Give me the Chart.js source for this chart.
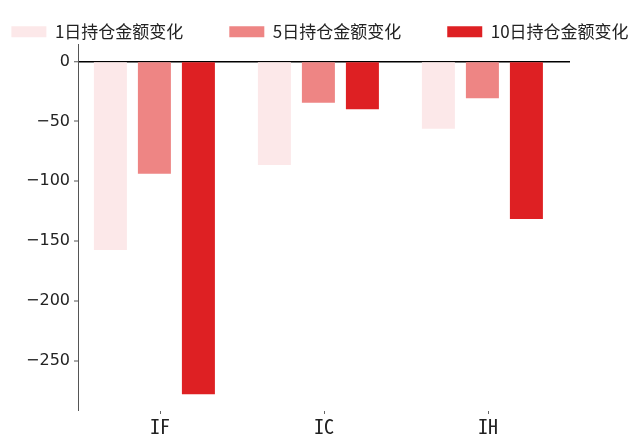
<!DOCTYPE html>
<html>
<head>
<meta charset="utf-8">
<script src="https://cdn.jsdelivr.net/npm/chart.js@4.4.1/dist/chart.umd.min.js"></script>
<style>
  html, body { margin: 0; padding: 0; background: #fff; }
  #wrap { width: 638px; height: 435px; }
</style>
</head>
<body>
<div id="wrap"><canvas id="posChart" width="638" height="435"></canvas></div>
<script>
// data
const CATEGORIES = ['IF', 'IC', 'IH'];
const SERIES_NAMES = ['1日持仓金额变化', '5日持仓金额变化', '10日持仓金额变化'];
const CHG_1D = [-157.3, -86.4, -56.2];
const CHG_5D = [-93.7, -34.5, -30.8];
const CHG_10D = [-277.5, -40.0, -131.4];
const Y_MIN = -291.5;
const Y_MAX = 14.5;
const Y_STEP = 50;

const COLORS = ['#fce8e9', '#ee8584', '#de2023'];
const SERIES = [CHG_1D, CHG_5D, CHG_10D];

// the groups sit a little left of their tick in the original
const shiftBars = {
    id: 'shiftBars',
    beforeDatasetsDraw(chart) {
        chart.ctx.save();
        chart.ctx.translate(-5.6, 0);
    },
    afterDatasetsDraw(chart) {
        chart.ctx.restore();
    }
};

const ctx = document.getElementById('posChart');
new Chart(ctx, {
    type: 'bar',
    data: {
        labels: CATEGORIES,
        datasets: SERIES_NAMES.map((name, i) => ({
            label: name,
            data: SERIES[i],
            backgroundColor: COLORS[i],
            borderWidth: 0
        }))
    },
    options: {
        responsive: false,
        animation: false,
        layout: { padding: { left: -45, right: -47, top: -22.8, bottom: 0 } },
        datasets: { bar: { categoryPercentage: 0.805, barPercentage: 0.75 } },
        plugins: {
            tooltip: { enabled: false },
            legend: {
                position: 'top',
                maxHeight: 66.8,
                labels: {
                    boxWidth: 35,
                    boxHeight: 11,
                    padding: 46,
                    color: '#222',
                    font: { family: '"Noto Sans CJK SC"', size: 17 }
                }
            }
        },
        scales: {
            x: {
                offset: true,
                grid: { display: true, drawOnChartArea: false, offset: false, tickLength: 3, tickColor: '#666', tickWidth: 1 },
                border: { display: false },
                ticks: { padding: 0, color: '#222', font: { family: '"Noto Sans Mono CJK SC", "Noto Sans CJK SC"', size: 20 } },
                afterFit: s => { s.height = 24; }
            },
            y: {
                min: Y_MIN,
                max: Y_MAX,
                ticks: {
                    stepSize: Y_STEP,
                    includeBounds: false,
                    padding: 4,
                    color: '#222',
                    font: { family: '"DejaVu Sans"', size: 16 },
                    callback: v => (v < 0 ? '\u2212' : '') + Math.abs(v)
                },
                grid: {
                    color: c => (c.tick && c.tick.value === 0 ? '#000' : 'rgba(0,0,0,0)'),
                    lineWidth: c => (c.tick && c.tick.value === 0 ? 1.5 : 0),
                    tickColor: '#555',
                    tickWidth: 1,
                    tickLength: 4
                },
                border: { display: true, color: '#555', width: 1 },
                afterFit: s => { s.width = 123; }
            },
            yR: {
                position: 'right',
                grid: { display: false },
                ticks: { display: false },
                border: { display: false },
                afterFit: s => { s.width = 115; }
            }
        }
    },
    plugins: [shiftBars]
});
</script>
</body>
</html>
